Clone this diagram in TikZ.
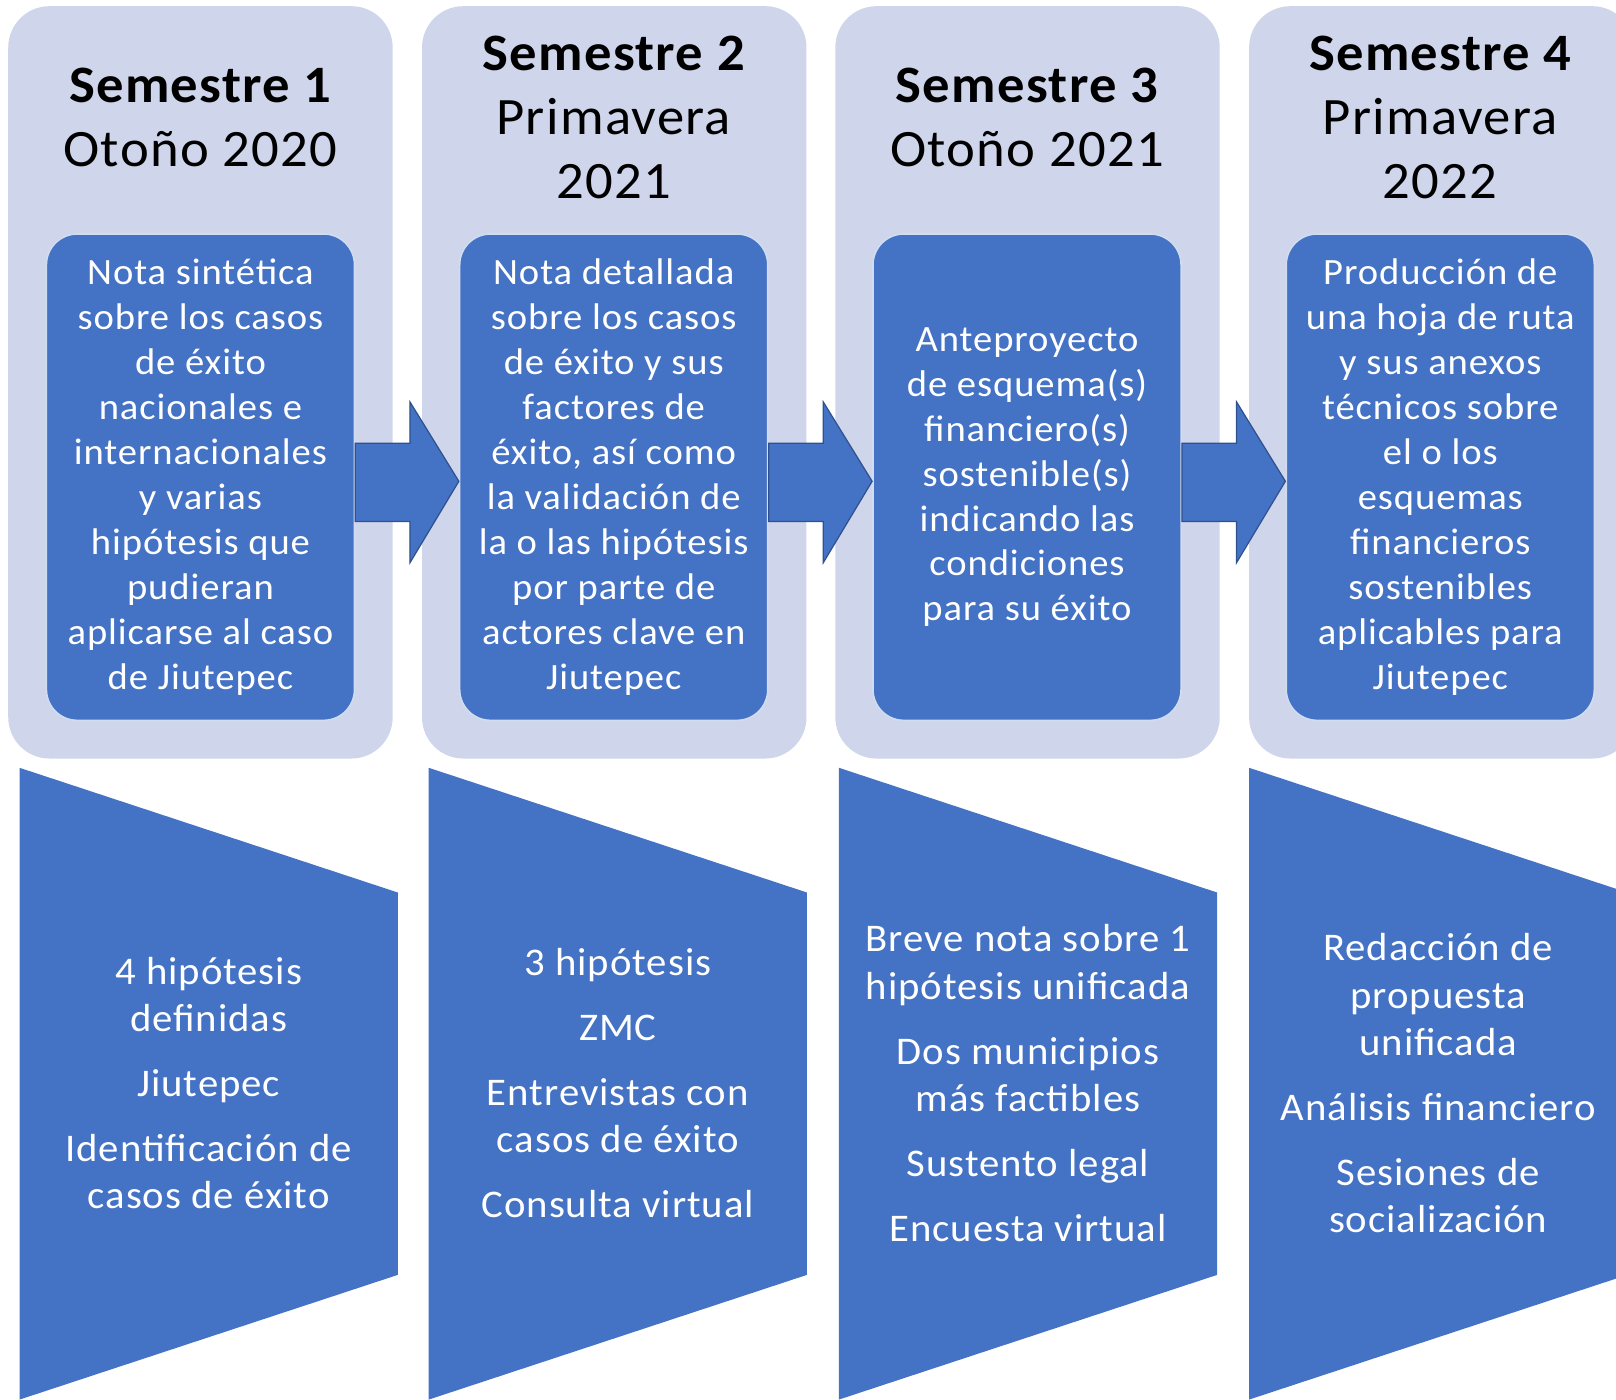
\documentclass[tikz,border=0pt]{standalone}
\usepackage{fontspec}
\setmainfont{Carlito}[FakeStretch=1.04,LetterSpace=2.5]
\usetikzlibrary{calc}
\definecolor{panelcol}{HTML}{CFD5EA}
\definecolor{azul}{HTML}{4472C4}
\definecolor{azulborde}{HTML}{2F528F}
\tikzset{
	panel/.style={fill=panelcol,rounded corners=20pt,minimum width=186.5pt,minimum height=365pt},
	caja/.style={fill=azul,draw=white!75!azul,line width=0.8pt,rounded corners=15pt,minimum width=149.5pt,minimum height=236pt,text=white,align=center,font=\fontsize{18}{21.8}\selectfont},
	titulo/.style={align=center,font=\fontsize{25.5}{31}\selectfont},
	flecha/.style={fill=azul,draw=azulborde,line width=0.6pt},
	trapecio/.style={fill=azul},
	lista/.style={text=white,align=center,font=\fontsize{19}{23}\selectfont}
}
\begin{document}
\begin{tikzpicture}[x=0.5pt,y=-0.5pt]
	\useasboundingbox (0,0) rectangle (1568,1358);
	\clip (0,0) rectangle (1568,1358);
	% paneles
	\node[panel] (p1) at (194.5,371) {};
	\node[panel] (p2) at (596,371) {};
	\node[panel] (p3) at (997,371) {};
	\node[panel] (p4) at (1398.5,371) {};
	% titulos
	\node[titulo] (t1) at (194.5,114) {{\bfseries Semestre 1}\\Otoño 2020};
	\node[titulo] (t2) at (595.5,114) {{\bfseries Semestre 2}\\Primavera\\2021};
	\node[titulo] (t3) at (996.5,114) {{\bfseries Semestre 3}\\Otoño 2021};
	\node[titulo] (t4) at (1397.5,114) {{\bfseries Semestre 4}\\Primavera\\2022};
	% productos
	\node[caja] (b1) at (194.5,463) {Nota sintética\\sobre los casos\\de éxito\\nacionales e\\internacionales\\y varias\\hipótesis que\\pudieran\\aplicarse al caso\\de Jiutepec};
	\node[caja] (b2) at (595.5,463) {Nota detallada\\sobre los casos\\de éxito y sus\\factores de\\éxito, así como\\la validación de\\la o las hipótesis\\por parte de\\actores clave en\\Jiutepec};
	\node[caja] (b3) at (996.5,463) {Anteproyecto\\de esquema(s)\\financiero(s)\\sostenible(s)\\indicando las\\condiciones\\para su éxito};
	\node[caja] (b4) at (1397.5,463) {Producción de\\una hoja de ruta\\y sus anexos\\técnicos sobre\\el o los\\esquemas\\financieros\\sostenibles\\aplicables para\\Jiutepec};
	% flechas
	\foreach \a/\b in {b1/b2,b2/b3,b3/b4}
		\draw[flecha] ($(\a.east)+(0,-33)$) -- ++(53,0) -- ++(0,-40) -- ($(\b.west)+(0,4)$)
			-- ($(\a.east)+(53,83)$) -- ++(0,-40) -- ($(\a.east)+(0,43)$) -- cycle;
	% trapecios
	\foreach \l in {19,416,814,1212}
		\fill[trapecio] (\l,745) -- (\l+367,866) -- (\l+367,1237) -- (\l,1358) -- cycle;
	\node[lista] (l1) at (202.5,1051) {4 hipótesis\\definidas\\[8.5pt]Jiutepec\\[8.5pt]Identificación de\\casos de éxito};
	\node[lista] (l2) at (599.5,1051) {3 hipótesis\\[8.5pt]ZMC\\[8.5pt]Entrevistas con\\casos de éxito\\[8.5pt]Consulta virtual};
	\node[lista] (l3) at (997.5,1051) {Breve nota sobre 1\\hipótesis unificada\\[8.5pt]Dos municipios\\más factibles\\[8.5pt]Sustento legal\\[8.5pt]Encuesta virtual};
	\node[lista] (l4) at (1395.5,1051) {Redacción de\\propuesta\\unificada\\[8.5pt]Análisis financiero\\[8.5pt]Sesiones de\\socialización};
\end{tikzpicture}
\end{document}
